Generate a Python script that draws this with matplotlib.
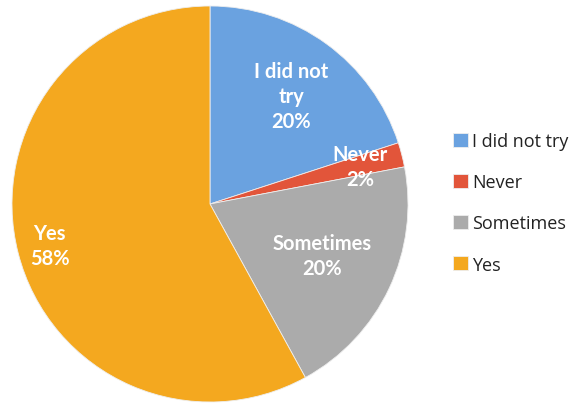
import matplotlib
matplotlib.use("Agg")
import matplotlib.pyplot as plt

categories = ["I did not try", "Never", "Sometimes", "Yes"]
values = [20, 2, 20, 58]
slice_labels = ["I did not\ntry\n20%", "Never\n2%", "Sometimes\n20%", "Yes\n58%"]
colors = ["#6aa2e0", "#e2553a", "#ababab", "#f4a81f"]
label_pos = [(0.41, 0.545), (0.76, 0.19), (0.566, -0.26), (-0.81, -0.21)]

plt.rcParams['font.family'] = ['Lato', 'DejaVu Sans']

W, H = 581, 406
fig = plt.figure(figsize=(W / 100, H / 100), dpi=100)
cx, cy, r = 210, 205, 198
ax = fig.add_axes([(cx - r) / W, (H - cy - r) / H, 2 * r / W, 2 * r / H])
wedges, _ = ax.pie(values, colors=colors, startangle=90, counterclock=False,
                   radius=1, wedgeprops=dict(edgecolor="#eeeeee", linewidth=0.6))
ax.set_xlim(-1, 1)
ax.set_ylim(-1, 1)
ax.set_aspect('equal')
ax.axis('off')

for (x, y), t in zip(label_pos, slice_labels):
    ax.text(x, y, t, ha='center', va='center', color='white', fontsize=14.5,
            fontweight='bold', linespacing=1.3)

leg = fig.legend(wedges, categories, loc='upper left',
                 bbox_to_anchor=(437 / W, 1 - 117 / H), frameon=False,
                 prop={'family': ['Open Sans', 'DejaVu Sans'], 'size': 13},
                 handlelength=0.8, handleheight=0.8,
                 handletextpad=0.25, labelspacing=1.28, labelcolor='#222222')

fig.savefig("out.png", dpi=100)
